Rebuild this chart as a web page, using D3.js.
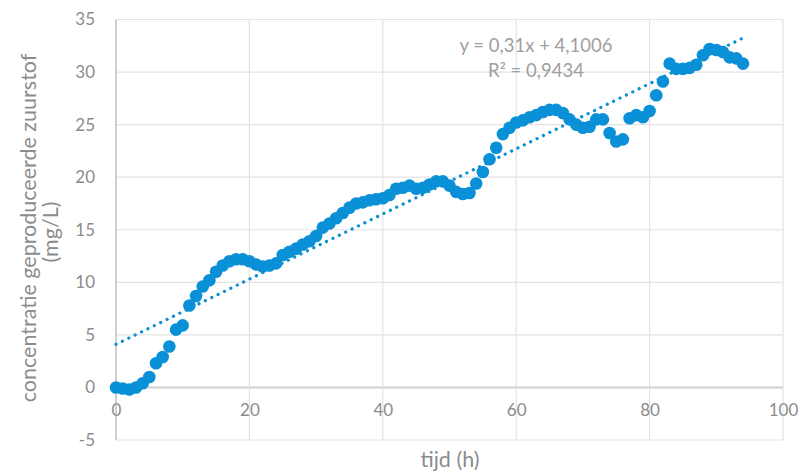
<!DOCTYPE html>
<html><head><meta charset="utf-8">
<script src="https://cdn.jsdelivr.net/npm/d3@7"></script>
<style>body{margin:0;background:#fff}text{font-family:Lato,"Open Sans",sans-serif}</style>
</head><body><svg id="c" width="801" height="471"></svg>
<script>
const hours = d3.range(0, 95);
const oxygen = [0,-0.1,-0.2,0,0.4,1.0,2.3,2.9,3.9,5.5,5.9,7.8,8.7,9.6,10.2,11.0,11.6,12.0,12.2,12.2,
12.0,11.7,11.5,11.6,11.8,12.6,12.9,13.2,13.6,13.9,14.4,15.2,15.6,16.1,16.6,17.1,17.5,17.6,17.8,17.9,
18.0,18.3,18.9,19.0,19.2,18.9,19.0,19.3,19.6,19.6,19.2,18.6,18.4,18.5,19.4,20.5,21.7,22.8,24.1,24.7,
25.2,25.4,25.7,25.9,26.2,26.4,26.4,26.1,25.5,25.0,24.7,24.8,25.5,25.5,24.2,23.4,23.6,25.6,25.9,25.7,
26.3,27.8,29.1,30.8,30.3,30.3,30.4,30.7,31.6,32.2,32.1,31.9,31.4,31.3,30.8];
const xTicks = [0,20,40,60,80,100];
const yTicks = [-5,0,5,10,15,20,25,30,35];
const slope = 0.31, intercept = 4.1006;
const eqText = "y = 0,31x + 4,1006", r2Text = "R² = 0,9434";

const svg = d3.select("#c");
const x = d3.scaleLinear().domain([0,100]).range([116,783]);
const y = d3.scaleLinear().domain([-5,35]).range([440,19.5]);
const grid = "#e3e3e3", axisC = "#d0d0d0", txt = "#8c8c8c", blue = "#0a90d6";

// grid
svg.append("g").selectAll("line").data(yTicks).join("line")
  .attr("x1",x(0)).attr("x2",x(100)).attr("y1",d=>y(d)).attr("y2",d=>y(d))
  .attr("stroke",d=>d===0?axisC:grid).attr("stroke-width",d=>d===0?2:1.2);
svg.append("g").selectAll("line").data(xTicks).join("line")
  .attr("y1",y(35)).attr("y2",y(-5)).attr("x1",d=>x(d)).attr("x2",d=>x(d))
  .attr("stroke",d=>d===0?axisC:grid).attr("stroke-width",d=>d===0?2:1.2);

// axes labels via d3 axes
const fmt = d => String(d);
const ax = svg.append("g").attr("transform",`translate(0,${y(0)})`)
  .call(d3.axisBottom(x).tickValues(xTicks).tickFormat(fmt).tickSize(0).tickPadding(16));
const ay = svg.append("g").attr("transform",`translate(${x(0)-5},0)`)
  .call(d3.axisLeft(y).tickValues(yTicks).tickFormat(fmt).tickSize(0).tickPadding(16));
[ax,ay].forEach(g=>{g.select(".domain").remove();
  g.selectAll("text").attr("fill",txt).style("font-size","17px").style("font-family","Lato,sans-serif");});

// trendline
svg.append("line").attr("x1",x(0)).attr("y1",y(intercept)).attr("x2",x(94)).attr("y2",y(slope*94+intercept))
  .attr("stroke",blue).attr("stroke-width",3.2).attr("stroke-linecap","round").attr("stroke-dasharray","0.1 7");

// points
svg.append("g").selectAll("circle").data(hours).join("circle")
  .attr("cx",d=>x(d)).attr("cy",(d,i)=>y(oxygen[i])).attr("r",6.3).attr("fill",blue);

// equation
svg.append("text").attr("x",536).attr("y",52).attr("text-anchor","middle").attr("fill","#a0a0a0").style("font-size","18.5px").text(eqText);
svg.append("text").attr("x",536).attr("y",77).attr("text-anchor","middle").attr("fill","#a0a0a0").style("font-size","18.5px").text(r2Text);

// titles
svg.append("text").attr("x",450).attr("y",467).attr("text-anchor","middle").attr("fill",txt).style("font-size","21.5px").text("tijd (h)");
const yt = svg.append("text").attr("transform","translate(0,0) rotate(-90)").attr("text-anchor","middle").attr("fill",txt).style("font-size","21.5px");
yt.append("tspan").attr("x",-228).attr("y",36).text("concentratie geproduceerde zuurstof");
yt.append("tspan").attr("x",-232).attr("y",58).text("(mg/L)");
</script></body></html>
